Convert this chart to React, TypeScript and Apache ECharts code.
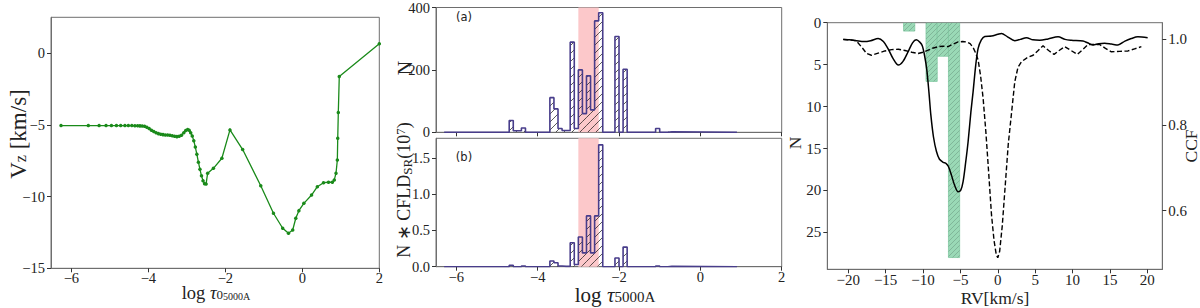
import React, { useEffect, useRef } from "react";
import * as echarts from "echarts";

const SERIF = "Liberation Serif";
const SANS = "DejaVu Sans";

// ---------- Panel 1: velocity vs optical depth ----------
const tauPts = [-6.27, -5.56, -5.28, -5.1, -4.96, -4.83, -4.72, -4.61, -4.52, -4.43, -4.35, -4.28, -4.22, -4.16, -4.1, -4.04, -3.98, -3.92, -3.86, -3.8, -3.74, -3.68, -3.62, -3.56, -3.5, -3.44, -3.38, -3.32, -3.26, -3.2, -3.14, -3.08, -3.03, -2.98, -2.94, -2.9, -2.86, -2.82, -2.78, -2.74, -2.7, -2.66, -2.62, -2.58, -2.54, -2.5, -2.46, -2.31, -2.09, -1.88, -1.55, -1.08, -0.75, -0.51, -0.36, -0.25, -0.17, -0.09, 0.04, 0.24, 0.39, 0.55, 0.68, 0.78, 0.83, 0.875, 0.91, 0.92, 0.935, 0.96, 2.0];
const vzPts = [-5.05, -5.05, -5.05, -5.05, -5.05, -5.05, -5.05, -5.05, -5.05, -5.05, -5.06, -5.06, -5.07, -5.08, -5.1, -5.16, -5.26, -5.37, -5.46, -5.55, -5.61, -5.65, -5.68, -5.7, -5.71, -5.73, -5.76, -5.8, -5.82, -5.8, -5.72, -5.55, -5.4, -5.33, -5.38, -5.55, -5.78, -6.1, -6.55, -7.05, -7.6, -8.1, -8.55, -8.9, -9.1, -9.12, -8.37, -8.03, -7.33, -5.35, -6.72, -9.25, -11.16, -12.21, -12.56, -12.33, -11.51, -10.98, -10.47, -9.89, -9.31, -9.03, -9.0, -9.0, -8.84, -8.37, -7.45, -5.93, -4.14, -1.63, 0.65];
const tauTicks = [-6, -4, -2, 0, 2];
const vzTicks = [-15, -10, -5, 0];

// ---------- Panel 2: histograms ----------
const binWidth = 0.1;
const histRange = [-6.3, 0.9];
const binLefts = [-4.7, -4.6, -4.5, -4.4, -3.7, -3.6, -3.5, -3.4, -3.3, -3.2, -3.1, -3.0, -2.9, -2.8, -2.7, -2.6, -2.5, -2.1, -1.9, -1.1, -0.8];
const countsA = [38, 5, 5, 14, 111, 75, 12, 6, 6, 289, 12, 200, 60, 181, 72, 357, 383, 307, 202, 12, 2];
const cfldB = [0.02, 0, 0, 0.01, 0.078, 0.055, 0.01, 0.005, 0.005, 0.33, 0.03, 0.41, 0.19, 0.7, 0.19, 0.7, 1.68, 0.12, 0.27, 0.01, 0.005];
const sampleSpan = [-3.0, -2.5];
const countTicks = [0, 200, 400];
const cfldTicks = [0, 0.5, 1.0, 1.5];

// ---------- Panel 3: RV histogram and CCFs ----------
const rvBinLefts = [-12.6, -9.6, -8.1, -6.6];
const rvBinWidth = 1.5;
const rvCounts = [1, 7, 4, 28];
const rvTicks = [-20, -15, -10, -5, 0, 5, 10, 15, 20];
const nTicks = [0, 5, 10, 15, 20, 25];
const ccfTicks = [0.6, 0.8, 1.0];
const ccfSolid = [[-20.67, 1.0], [-19.8, 0.999], [-18.9, 0.997], [-17.9, 0.995], [-17.0, 0.997], [-16.0, 1.002], [-15.3, 0.995], [-14.7, 0.979], [-14.0, 0.955], [-13.3, 0.94], [-12.7, 0.948], [-12.0, 0.971], [-11.4, 0.992], [-10.9, 0.999], [-10.4, 0.993], [-10.1, 0.985], [-9.8, 0.963], [-9.5, 0.93], [-9.2, 0.875], [-8.95, 0.823], [-8.6, 0.772], [-8.2, 0.738], [-7.8, 0.72], [-7.3, 0.713], [-6.9, 0.71], [-6.6, 0.703], [-6.2, 0.683], [-5.75, 0.658], [-5.3, 0.644], [-4.95, 0.648], [-4.64, 0.668], [-4.3, 0.712], [-3.97, 0.761], [-3.6, 0.83], [-3.3, 0.878], [-2.95, 0.94], [-2.63, 0.979], [-2.2, 0.999], [-1.74, 1.007], [-0.84, 1.008], [0.0, 1.012], [0.49, 1.014], [1.3, 1.006], [2.27, 0.997], [3.0, 1.0], [3.83, 1.004], [4.7, 0.999], [5.61, 0.998], [6.72, 1.001], [8.06, 1.006], [9.0, 1.0], [9.84, 0.998], [11.4, 0.996], [12.0, 0.992], [12.73, 0.987], [13.5, 0.99], [14.29, 0.991], [15.2, 0.989], [16.07, 0.987], [17.0, 0.996], [17.85, 1.002], [18.74, 1.006], [20.04, 1.004]];
const ccfDashed = [[-20.67, 1.0], [-19.7, 0.999], [-18.9, 0.996], [-18.2, 0.982], [-17.54, 0.967], [-16.9, 0.963], [-16.0, 0.968], [-15.1, 0.973], [-14.2, 0.976], [-13.3, 0.977], [-12.4, 0.974], [-11.5, 0.97], [-10.65, 0.967], [-10.0, 0.97], [-9.3, 0.975], [-8.6, 0.98], [-7.98, 0.983], [-7.3, 0.984], [-6.64, 0.983], [-6.0, 0.989], [-5.3, 0.994], [-4.7, 0.995], [-4.18, 0.994], [-3.7, 0.99], [-3.3, 0.981], [-2.95, 0.968], [-2.63, 0.952], [-2.3, 0.915], [-1.96, 0.862], [-1.6, 0.785], [-1.29, 0.707], [-0.84, 0.59], [-0.5, 0.53], [-0.2, 0.497], [0.0, 0.49], [0.25, 0.505], [0.6, 0.565], [1.0, 0.66], [1.4, 0.755], [1.83, 0.827], [2.27, 0.901], [2.7, 0.935], [3.17, 0.948], [3.9, 0.957], [4.72, 0.963], [5.4, 0.974], [6.05, 0.985], [6.8, 0.974], [7.52, 0.965], [8.2, 0.974], [8.95, 0.983], [9.8, 0.974], [10.65, 0.965], [11.4, 0.977], [12.07, 0.988], [13.63, 0.988], [14.4, 0.979], [15.19, 0.971], [16.3, 0.972], [17.41, 0.973], [18.3, 0.978], [19.2, 0.983]];

// ---------- helpers ----------
const fmtNum = (v: number, d = 0) => {
  const s = Math.abs(v).toFixed(d);
  return v < -1e-9 ? "\u2212" + s : s;
};

function stepOutline(lefts: number[], vals: number[], w: number, range: number[]) {
  const pts: number[][] = [[range[0], 0]];
  let prevR = range[0];
  lefts.forEach((l, i) => {
    if (Math.abs(l - prevR) > 1e-6) pts.push([prevR, 0], [l, 0]);
    pts.push([l, vals[i]], [l + w, vals[i]]);
    prevR = l + w;
  });
  pts.push([prevR, 0], [range[1], 0]);
  return pts;
}

function hatchLines(x0: number, y0: number, x1: number, y1: number, gap: number, stroke: string, lw: number) {
  const out: any[] = [];
  const cStart = Math.ceil((x0 + y0) / gap) * gap;
  for (let c = cStart; c <= x1 + y1; c += gap) {
    const xa = Math.max(x0, c - y1);
    const xb = Math.min(x1, c - y0);
    if (xb - xa > 0.3) {
      out.push({ type: "line", silent: true, shape: { x1: xa, y1: c - xa, x2: xb, y2: c - xb }, style: { stroke, lineWidth: lw } });
    }
  }
  return out;
}

function hatchSeries(xi: number, yi: number, data: number[][], gap: number, stroke: string, lw: number, fill?: string, edge?: string) {
  return {
    type: "custom",
    xAxisIndex: xi,
    yAxisIndex: yi,
    z: 2,
    silent: true,
    clip: true,
    data,
    encode: { x: [0, 1], y: 2 },
    renderItem: (params: any, api: any) => {
      const l = api.value(0), r = api.value(1), h = api.value(2);
      const a = api.coord([l, h]);
      const b = api.coord([r, 0]);
      const x0 = Math.min(a[0], b[0]), x1 = Math.max(a[0], b[0]);
      const y0 = Math.min(a[1], b[1]), y1 = Math.max(a[1], b[1]);
      const children: any[] = [];
      if (fill) {
        children.push({ type: "rect", shape: { x: x0, y: y0, width: x1 - x0, height: y1 - y0 }, style: { fill, stroke: edge, lineWidth: 0.8 } });
      }
      children.push(...hatchLines(x0, y0, x1, y1, gap, stroke, lw));
      return { type: "group", children };
    },
  };
}

function spanSeries(xi: number, yi: number) {
  return {
    type: "custom",
    xAxisIndex: xi,
    yAxisIndex: yi,
    z: 1,
    silent: true,
    data: [sampleSpan],
    renderItem: (params: any, api: any) => {
      const a = api.coord([api.value(0), 0]);
      const b = api.coord([api.value(1), 0]);
      const cs = params.coordSys;
      return { type: "rect", shape: { x: a[0], y: cs.y, width: b[0] - a[0], height: cs.height }, style: { fill: "#fcc8ca" } };
    },
  };
}

function axis(gridIndex: number, min: number, max: number, ticks: number[], showLabels: boolean, fontSize: number, digits: number, margin: number, extra: any = {}) {
  return {
    type: "value",
    gridIndex,
    min,
    max,
    axisLine: { show: true, onZero: false, lineStyle: { color: "#6e6e6e", width: 1 } },
    splitLine: { show: false },
    axisTick: { show: true, length: 4, lineStyle: { color: "#333", width: 1 }, customValues: ticks },
    axisLabel: {
      show: showLabels,
      customValues: ticks,
      formatter: (v: number) => fmtNum(v, digits),
      fontFamily: SERIF,
      fontSize,
      color: "#222",
      margin,
    },
    ...extra,
  };
}

function label(x: number, y: number, text: string, rich: any, rotate = false) {
  return {
    type: "text",
    x,
    y,
    rotation: rotate ? Math.PI / 2 : 0,
    silent: true,
    style: { text, rich, align: "center", verticalAlign: "middle", fill: "#222" },
  };
}

const richBase = (size: number, lh = size - 2) => ({
  m: { fontFamily: SERIF, fontSize: size, lineHeight: lh, color: "#222" },
  i: { fontFamily: SERIF, fontSize: size, fontStyle: "italic", lineHeight: lh, color: "#222" },
  s: { fontFamily: SERIF, fontSize: Math.round(size * 0.7), lineHeight: Math.round(size * 0.45), verticalAlign: "bottom", color: "#222" },
  ss: { fontFamily: SERIF, fontSize: Math.round(size * 0.55), lineHeight: 1, verticalAlign: "bottom", color: "#222" },
  sup: { fontFamily: SERIF, fontSize: Math.round(size * 0.7), lineHeight: 2, verticalAlign: "top", color: "#222" },
});

function buildOption() {
  const grids = [
    { left: 51, top: 17.3, width: 328.3, height: 251 },
    { left: 436, top: 4.7, width: 345.7, height: 127.6 },
    { left: 436, top: 138.3, width: 345.7, height: 128.4 },
    { left: 827.3, top: 22.7, width: 335, height: 246.6 },
  ].map((g) => ({ ...g, show: true, borderColor: "#6e6e6e", borderWidth: 1, backgroundColor: "transparent", containLabel: false }));

  const velData = tauPts.map((t, i) => [t, vzPts[i]]);
  const hatchA = binLefts.map((l, i) => [l, l + binWidth, countsA[i]]).filter((d) => d[2] > 0);
  const hatchB = binLefts.map((l, i) => [l, l + binWidth, cfldB[i]]).filter((d) => d[2] > 0);
  const rvData = rvBinLefts.map((l, i) => [l, l + rvBinWidth, rvCounts[i]]);

  return {
    animation: false,
    grid: grids,
    xAxis: [
      axis(0, -6.53, 2, tauTicks, true, 14.5, 0, 2),
      axis(1, -6.5, 2, tauTicks, false, 14.5, 0, 3),
      axis(2, -6.5, 2, tauTicks, true, 14.5, 0, 3),
      axis(3, -22.8, 22, rvTicks, true, 15, 0, 3),
    ],
    yAxis: [
      axis(0, -15, 2.5, vzTicks, true, 14.5, 0, 6),
      axis(1, 0, 400, countTicks, true, 14.5, 0, 6),
      axis(2, 0, 1.77, cfldTicks, true, 14.5, 1, 6),
      axis(3, 0, 29.4, nTicks, true, 15, 0, 6, { inverse: true, position: "left" }),
      axis(3, 0.463, 1.039, ccfTicks, true, 15, 1, 6, { position: "right" }),
    ],
    series: [
      {
        type: "line",
        xAxisIndex: 0,
        yAxisIndex: 0,
        data: velData,
        symbol: "circle",
        symbolSize: 3.5,
        showSymbol: true,
        itemStyle: { color: "#1a8a1a" },
        lineStyle: { color: "#1a8a1a", width: 1.3 },
        silent: true,
        z: 3,
      },
      spanSeries(1, 1),
      spanSeries(2, 2),
      hatchSeries(1, 1, hatchA, 8, "#111", 0.7),
      hatchSeries(2, 2, hatchB, 8, "#111", 0.7),
      {
        type: "line",
        xAxisIndex: 1,
        yAxisIndex: 1,
        data: stepOutline(binLefts, countsA, binWidth, histRange),
        symbol: "none",
        lineStyle: { color: "#483d8b", width: 1.6 },
        silent: true,
        z: 4,
      },
      {
        type: "line",
        xAxisIndex: 2,
        yAxisIndex: 2,
        data: stepOutline(binLefts, cfldB, binWidth, histRange),
        symbol: "none",
        lineStyle: { color: "#483d8b", width: 1.6 },
        silent: true,
        z: 4,
      },
      hatchSeries(3, 3, rvData, 5, "#6f9e84", 0.6, "#9ad9b6", "#82c9a2"),
      {
        type: "line",
        xAxisIndex: 3,
        yAxisIndex: 4,
        data: ccfDashed,
        symbol: "none",
        smooth: false,
        lineStyle: { color: "#000", width: 1.4, type: [5, 2.5] },
        silent: true,
        z: 4,
      },
      {
        type: "line",
        xAxisIndex: 3,
        yAxisIndex: 4,
        data: ccfSolid,
        symbol: "none",
        smooth: 0.3,
        lineStyle: { color: "#000", width: 1.5 },
        silent: true,
        z: 5,
      },
    ],
    graphic: [
      label(18, 134, "{m|V}{s|z}{m| [km/s]}", richBase(23), true),
      label(216, 293, "{m|log }{i|\u03c4}{s|0}{ss|5000A}", richBase(18.5)),
      label(405, 68, "{m|N}", richBase(20), true),
      label(404, 190, "{m|N \u2217 CFLD}{s|SR}{m|(10}{sup|7}{m|)}", richBase(18, 20), true),
      label(615, 295, "{m|log }{i|\u03c4}{s|5000A}", richBase(21)),
      label(795, 143, "{m|N}", richBase(17.5), true),
      label(1191, 146, "{m|CCF}", richBase(17.5), true),
      label(995, 298, "{m|RV[km/s]}", richBase(17.5)),
      { type: "text", x: 464, y: 17, silent: true, style: { text: "(a)", font: `11.5px ${SANS}`, align: "center", verticalAlign: "middle", fill: "#222" } },
      { type: "text", x: 464, y: 157, silent: true, style: { text: "(b)", font: `11.5px ${SANS}`, align: "center", verticalAlign: "middle", fill: "#222" } },
    ],
  };
}

export default function App() {
  const ref = useRef<HTMLDivElement>(null);
  useEffect(() => {
    document.body.style.margin = "0";
    const chart = echarts.init(ref.current!, null, { renderer: "svg" });
    chart.setOption(buildOption() as any);
    return () => chart.dispose();
  }, []);
  return <div ref={ref} style={{ width: 1200, height: 308 }} />;
}
